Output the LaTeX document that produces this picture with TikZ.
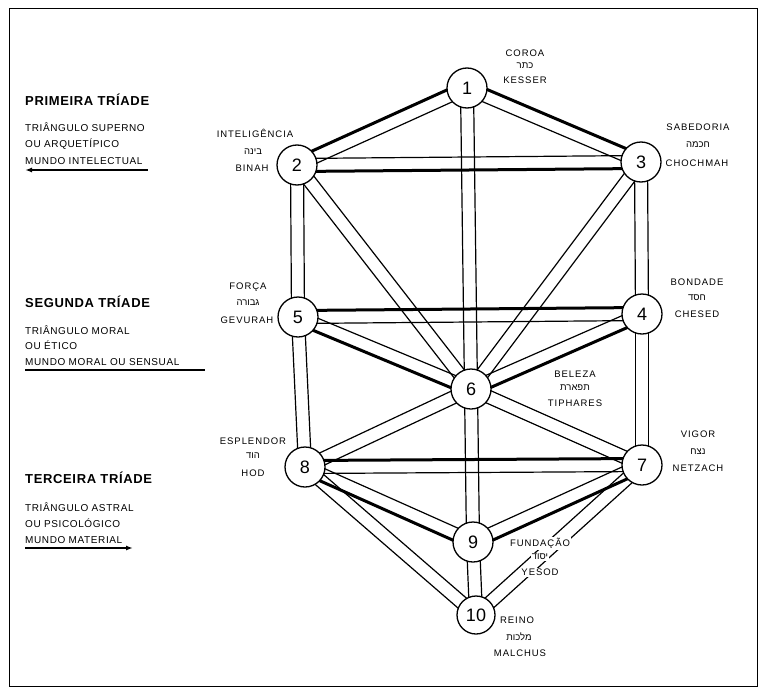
\documentclass[tikz,border=0pt]{standalone}
\usepackage{fontspec}
\setmainfont{Liberation Sans}
\newfontfamily\lblfont[LetterSpace=10]{Liberation Sans}
\newfontfamily\bodyfont[LetterSpace=6]{Liberation Sans}
\newfontfamily\hdfont[LetterSpace=5]{Liberation Sans Bold}
\newfontfamily\hebfont[Script=Hebrew]{Liberation Sans}
\TeXXeTstate=1
\usetikzlibrary{calc,arrows.meta,backgrounds}
\tikzset{
 sef/.style={circle,draw,line width=1.3pt,fill=white,minimum size=40pt,inner sep=0pt,font=\fontsize{18}{18}\selectfont},
 lbl/.style={fill=white,inner sep=1.2pt,anchor=base,font=\lblfont\fontsize{9.5}{10}\selectfont},
 heb/.style={fill=white,inner sep=1.2pt,font=\hebfont\fontsize{9.5}{10}\selectfont},
 hd/.style={anchor=base west,inner sep=0pt,font=\hdfont\fontsize{13}{14}\selectfont},
 body/.style={anchor=base west,inner sep=0pt,font=\bodyfont\fontsize{10}{11}\selectfont},
 thinl/.style={line width=1.2pt},
 thickl/.style={line width=3pt},
 uline/.style={line width=2.2pt},
}
\newcommand\pth[4]{%
 \draw[#3] ($(#1)!6.5pt!90:(#2)$) -- ($(#2)!6.5pt!-90:(#1)$);
 \draw[#4] ($(#1)!6.5pt!-90:(#2)$) -- ($(#2)!6.5pt!90:(#1)$);}
\begin{document}
\begin{tikzpicture}[x=1pt,y=-1pt]
\useasboundingbox (0,0) rectangle (765,693);
\draw[line width=1pt] (9,9) rectangle (757,686);

% sephiroth
\node[sef] (n1) at (467,88) {1};
\node[sef] (n2) at (297,165) {2};
\node[sef] (n3) at (641,162) {3};
\node[sef] (n5) at (298,317) {5};
\node[sef] (n4) at (642,314) {4};
\node[sef] (n6) at (471,389) {6};
\node[sef] (n8) at (305,467) {8};
\node[sef] (n7) at (642,465) {7};
\node[sef] (n9) at (473,542) {9};
\node[sef,minimum size=38pt] (n10) at (476,615) {10};

\begin{pgfonlayer}{background}
\pth{n1}{n2}{thinl}{thickl}
\pth{n1}{n3}{thickl}{thinl}
\pth{n2}{n3}{thinl}{thickl}
\pth{n1}{n6}{thinl}{thinl}
\pth{n2}{n5}{thinl}{thinl}
\pth{n3}{n4}{thinl}{thinl}
\pth{n2}{n6}{thinl}{thinl}
\pth{n3}{n6}{thinl}{thinl}
\pth{n5}{n4}{thickl}{thinl}
\pth{n5}{n6}{thinl}{thickl}
\pth{n4}{n6}{thickl}{thinl}
\pth{n5}{n8}{thinl}{thinl}
\pth{n4}{n7}{thinl}{thinl}
\pth{n6}{n8}{thinl}{thinl}
\pth{n6}{n7}{thinl}{thinl}
\pth{n6}{n9}{thinl}{thinl}
\pth{n8}{n7}{thickl}{thinl}
\pth{n8}{n9}{thinl}{thickl}
\pth{n7}{n9}{thickl}{thinl}
\pth{n8}{n10}{thinl}{thinl}
\pth{n9}{n10}{thinl}{thinl}
\pth{n7}{n10}{thinl}{thinl}
\end{pgfonlayer}

% labels
\node[lbl] (k1) at (525,56.5) {COROA};
\node[heb] (k2) at (525,66) {\beginR כתר\endR};
\node[lbl] (k3) at (525,83.5) {KESSER};

\node[lbl] (b1) at (255,137.5) {INTELIGÊNCIA};
\node[heb] (b2) at (253,152) {\beginR בינה\endR};
\node[lbl] (b3) at (252,171.5) {BINAH};

\node[lbl] (h1) at (698,130.5) {SABEDORIA};
\node[heb] (h2) at (698,145) {\beginR חכמה\endR};
\node[lbl] (h3) at (697,166.5) {CHOCHMAH};

\node[lbl] (g1) at (248,289.5) {FORÇA};
\node[heb] (g2) at (248,303) {\beginR גבורה\endR};
\node[lbl] (g3) at (247,323.5) {GEVURAH};

\node[lbl] (c1) at (697,285.5) {BONDADE};
\node[heb] (c2) at (697,298) {\beginR חסד\endR};
\node[lbl] (c3) at (697,317.5) {CHESED};

\node[lbl] (t1) at (575,377.5) {BELEZA};
\node[heb] (t2) at (575,388) {\beginR תפארת\endR};
\node[lbl] (t3) at (575,406.5) {TIPHARES};

\node[lbl] (o1) at (253,444.5) {ESPLENDOR};
\node[heb] (o2) at (253,456) {\beginR הוד\endR};
\node[lbl] (o3) at (253,476.5) {HOD};

\node[lbl] (z1) at (698,437.5) {VIGOR};
\node[heb] (z2) at (698,452) {\beginR נצח\endR};
\node[lbl] (z3) at (698,471.5) {NETZACH};

\node[lbl] (y1) at (540,546.5) {FUNDAÇÃO};
\node[heb] (y2) at (540,557) {\beginR יסוד\endR};
\node[lbl] (y3) at (540,575.5) {YESOD};

\node[lbl] (m1) at (517,623.5) {REINO};
\node[heb] (m2) at (519,637) {\beginR מלכות\endR};
\node[lbl] (m3) at (520,656.5) {MALCHUS};

% left column
\node[hd] (p0) at (25,105) {PRIMEIRA TRÍADE};
\node[body] (p1) at (25,131) {TRIÂNGULO SUPERNO};
\node[body] (p2) at (25,147) {OU ARQUETÍPICO};
\node[body] (p3) at (25,164) {MUNDO INTELECTUAL};
\draw[uline,{Latex[length=7pt,width=5pt]}-] (25,170) -- (148,170);

\node[hd] (s0) at (25,307) {SEGUNDA TRÍADE};
\node[body] (s1) at (25,334) {TRIÂNGULO MORAL};
\node[body] (s2) at (25,349) {OU ÉTICO};
\node[body] (s3) at (25,365) {MUNDO MORAL OU SENSUAL};
\draw[uline] (25,370) -- (205,370);

\node[hd] (r0) at (25,483) {TERCEIRA TRÍADE};
\node[body] (r1) at (25,511) {TRIÂNGULO ASTRAL};
\node[body] (r2) at (25,527) {OU PSICOLÓGICO};
\node[body] (r3) at (25,543) {MUNDO MATERIAL};
\draw[uline,-{Latex[length=7pt,width=5pt]}] (25,548) -- (133,548);
\end{tikzpicture}
\end{document}
